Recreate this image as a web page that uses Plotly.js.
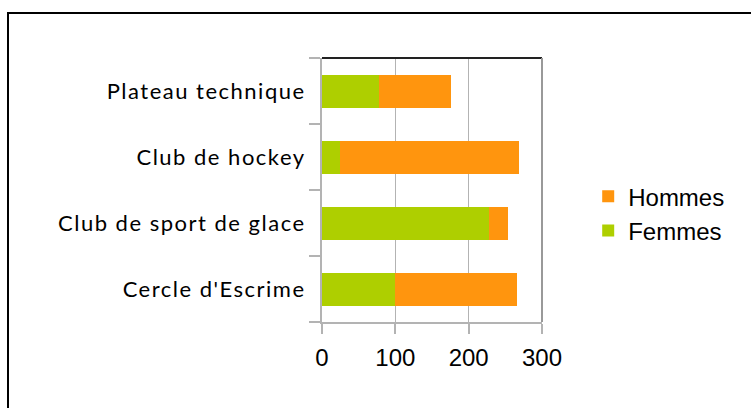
<!DOCTYPE html>
<html>
<head>
<meta charset="utf-8">
<script src="https://cdn.plot.ly/plotly-3.0.1.min.js"></script>
<style>
  body { margin: 0; background: #fff; }
  #wrap { position: relative; width: 751px; height: 408px; }
  #frame { position: absolute; left: 7px; top: 12px; right: 0; bottom: 0;
           border-left: 2px solid #000; border-top: 2px solid #000; pointer-events: none; }
  #plt .ytick text { letter-spacing: 1.5px; }
</style>
</head>
<body>
<div id="wrap">
  <div id="plt" style="width:751px;height:408px;"></div>
  <div id="frame"></div>
</div>
<script>
var clubs = ["Cercle d'Escrime", "Club de sport de glace", "Club de hockey", "Plateau technique"];
var femmes = [99, 228, 24, 78];
var hommes = [167, 26, 245, 98];

var data = [{
    y: clubs,
    x: femmes,
    type: 'bar',
    orientation: 'h',
    name: 'Femmes',
    width: 0.5,
    marker: { color: '#aecf00' }
}, {
    y: clubs,
    x: hommes,
    type: 'bar',
    orientation: 'h',
    name: 'Hommes',
    width: 0.5,
    marker: { color: '#ff950e' }
}];

var layout = {
    width: 751,
    height: 408,
    barmode: 'stack',
    margin: { l: 322, r: 209, t: 58, b: 86 },
    paper_bgcolor: '#fff',
    plot_bgcolor: '#fff',
    showlegend: true,
    legend: {
        x: 1.21, xanchor: 'left',
        y: 0.41, yanchor: 'middle',
        traceorder: 'reversed',
        font: { family: 'Liberation Sans, Arial', size: 24, color: '#000' },
        itemgap: 13
    },
    xaxis: {
        range: [0, 300],
        tickvals: [0, 100, 200, 300],
        showgrid: true,
        gridcolor: '#b3b3b3',
        zeroline: false,
        showline: true,
        linecolor: '#b3b3b3',
        linewidth: 2,
        ticks: 'outside',
        ticklen: 10,
        tickcolor: '#b3b3b3',
        tickwidth: 2,
        ticklabelstandoff: 3,
        tickfont: { family: 'Liberation Sans, Arial', size: 24, color: '#000' }
    },
    yaxis: {
        type: 'category',
        range: [-0.5, 3.5],
        showgrid: false,
        showline: true,
        linecolor: '#b3b3b3',
        linewidth: 2,
        ticks: 'outside',
        tickson: 'boundaries',
        ticklen: 11,
        tickcolor: '#b3b3b3',
        tickwidth: 2,
        ticklabelstandoff: 10,
        tickfont: { family: 'Lato, Open Sans', size: 22, color: '#000' }
    },
    shapes: [{
        type: 'line', xref: 'paper', yref: 'paper',
        x0: 0, x1: 1, y0: 1, y1: 1,
        line: { color: '#222', width: 2 }
    }, {
        type: 'line', xref: 'paper', yref: 'paper',
        x0: 1, x1: 1, y0: 0, y1: 1,
        line: { color: '#999', width: 2 }
    }]
};

Plotly.newPlot('plt', data, layout, { displayModeBar: false });
</script>
</body>
</html>
